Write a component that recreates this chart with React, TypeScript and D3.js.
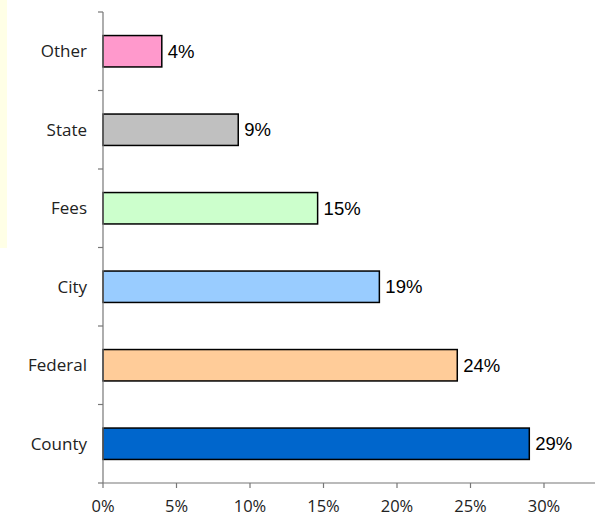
import * as d3 from 'd3';
import React, { useEffect, useRef } from 'react';

const categories = ["Other", "State", "Fees", "City", "Federal", "County"];
const values = [0.040, 0.092, 0.146, 0.188, 0.241, 0.290];
const labels = ["4%", "9%", "15%", "19%", "24%", "29%"];
const colors = ["#FF99CC", "#C0C0C0", "#CCFFCC", "#99CCFF", "#FFCC99", "#0066CC"];
const xTicks = [0, 0.05, 0.10, 0.15, 0.20, 0.25, 0.30];

export default function App() {
  const svgRef = useRef(null);
  const w = 595;
  const h = 516;
  const margin = { top: 12, left: 103, bottom: 33 };

  useEffect(() => {
    const svg = d3.select(svgRef.current);
    svg.selectAll("*").remove();

    // pale yellow strip on the left
    svg.append("rect")
      .attr("x", 0).attr("y", 0)
      .attr("width", 7).attr("height", 248)
      .attr("fill", "#FFFFE6");

    const x = d3.scaleLinear().domain([0, 0.30]).range([margin.left, 544]);
    const y = d3.scaleBand().domain(categories).range([margin.top, h - margin.bottom]).paddingInner(0.6).paddingOuter(0.3);
    const yEdge = d3.scaleLinear().domain([0, categories.length]).range([margin.top, h - margin.bottom]);
    const axisY = h - margin.bottom;

    // bars
    svg.append("g")
      .selectAll("rect")
      .data(values)
      .join("rect")
      .attr("x", x(0))
      .attr("y", (d, i) => y(categories[i])!)
      .attr("width", d => x(d) - x(0))
      .attr("height", y.bandwidth())
      .attr("fill", (d, i) => colors[i])
      .attr("stroke", "#000")
      .attr("stroke-width", 1.5);

    // value labels
    svg.append("g")
      .selectAll("text")
      .data(values)
      .join("text")
      .attr("x", d => x(d) + 6)
      .attr("y", (d, i) => y(categories[i])! + y.bandwidth() / 2)
      .attr("dy", "0.35em")
      .attr("font-family", "Liberation Sans, Arial, sans-serif")
      .attr("font-size", 18.5)
      .attr("fill", "#000")
      .text((d, i) => labels[i]);

    // category labels
    svg.append("g")
      .selectAll("text")
      .data(categories)
      .join("text")
      .attr("x", 87)
      .attr("y", d => y(d)! + y.bandwidth() / 2)
      .attr("dy", "0.35em")
      .attr("text-anchor", "end")
      .attr("font-family", "Open Sans, sans-serif")
      .attr("font-size", 17)
      .attr("fill", "#222")
      .text(d => d);

    const axisColor = "#777";

    // y axis line and ticks between categories
    svg.append("line")
      .attr("x1", x(0)).attr("x2", x(0))
      .attr("y1", yEdge(0)).attr("y2", axisY)
      .attr("stroke", axisColor).attr("stroke-width", 1.2);
    svg.append("g")
      .selectAll("line")
      .data(d3.range(categories.length + 1))
      .join("line")
      .attr("x1", x(0) - 5).attr("x2", x(0))
      .attr("y1", d => yEdge(d)).attr("y2", d => yEdge(d))
      .attr("stroke", axisColor).attr("stroke-width", 1.2);

    // x axis
    svg.append("line")
      .attr("x1", x(0)).attr("x2", w)
      .attr("y1", axisY).attr("y2", axisY)
      .attr("stroke", axisColor).attr("stroke-width", 1.2);
    const tickG = svg.append("g")
      .selectAll("g")
      .data(xTicks)
      .join("g");
    tickG.append("line")
      .attr("x1", d => x(d)).attr("x2", d => x(d))
      .attr("y1", axisY).attr("y2", axisY + 5)
      .attr("stroke", axisColor).attr("stroke-width", 1.2);
    tickG.append("text")
      .attr("x", d => x(d))
      .attr("y", axisY + 29)
      .attr("text-anchor", "middle")
      .attr("font-family", "Open Sans, sans-serif")
      .attr("font-size", 16.5)
      .attr("fill", "#222")
      .text(d => `${Math.round(d * 100)}%`);
  }, []);

  return (
    <svg ref={svgRef} width={w} height={h} style={{ position: "absolute", left: 0, top: 0 }} />
  );
}
